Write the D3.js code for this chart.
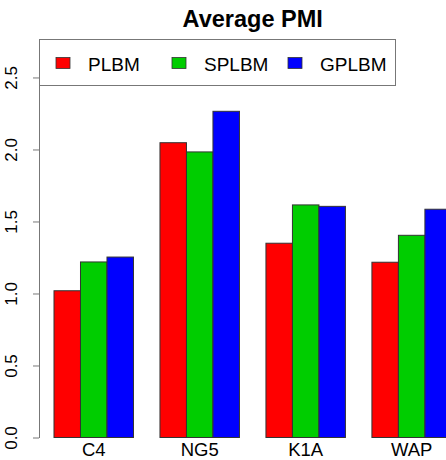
<!DOCTYPE html>
<html><head><meta charset="utf-8">
<script src="https://cdn.jsdelivr.net/npm/d3@7"></script>
<style>body{margin:0;background:#fff}svg{display:block;font-family:"Liberation Sans",Arial,sans-serif}</style>
</head><body>
<svg id="c" width="446" height="460"></svg>
<script>
const categories = ["C4", "NG5", "K1A", "WAP"];
const seriesNames = ["PLBM", "SPLBM", "GPLBM"];
const seriesColors = ["#FF0000", "#00CD00", "#0000FF"];
const PLBM  = [1.019, 2.047, 1.349, 1.217];
const SPLBM = [1.219, 1.983, 1.615, 1.404];
const GPLBM = [1.253, 2.265, 1.605, 1.585];
const yTicks = [0, 0.5, 1.0, 1.5, 2.0, 2.5];
const title = "Average PMI";

const values = [PLBM, SPLBM, GPLBM];
const svg = d3.select("#c");

// x in R barplot units: each group has 1 unit space + 3 bars
const x = d3.scaleLinear().domain([0.4, 16.6]).range([38.1, 467.3]);
const y = d3.scaleLinear().domain([0, 2.765]).range([437.5, 39.3]);

const bars = [];
categories.forEach((c, i) => {
  values.forEach((s, j) => {
    bars.push({c, j, v: s[i], u: i * 4 + 1 + j});
  });
});

svg.append("g").selectAll("rect").data(bars).join("rect")
  .attr("x", d => x(d.u))
  .attr("width", d => x(d.u + 1) - x(d.u))
  .attr("y", d => y(d.v))
  .attr("height", d => y(0) - y(d.v))
  .attr("fill", d => seriesColors[d.j])
  .attr("stroke", "#333")
  .attr("stroke-width", 1);

// category labels
svg.append("g").selectAll("text").data(categories).join("text")
  .attr("x", (d, i) => x(i * 4 + 2.5))
  .attr("y", 455.5)
  .attr("text-anchor", "middle")
  .attr("font-size", 18.5)
  .text(d => d);

// y axis
const yAxis = d3.axisLeft(y).tickValues(yTicks).tickFormat(d3.format(".1f")).tickSize(6).tickSizeOuter(0);
const ga = svg.append("g").attr("transform", "translate(39,0)").call(yAxis);
ga.select(".domain").attr("stroke", "#777");
ga.selectAll(".tick line").attr("stroke", "#777");
ga.selectAll(".tick text")
  .attr("font-size", 17)
  .attr("font-family", "Liberation Sans, Arial, sans-serif")
  .attr("fill", "#000")
  .attr("text-anchor", "middle")
  .attr("x", 0).attr("dy", 0)
  .attr("transform", "translate(-16,0) rotate(-90) translate(0,-6)");

// title
svg.append("text")
  .attr("x", (x(0.4) + x(16.6)) / 2)
  .attr("y", 27)
  .attr("text-anchor", "middle")
  .attr("font-size", 23.5)
  .attr("font-weight", "bold")
  .text(title);

// legend
const lg = svg.append("g");
lg.append("rect").attr("x", 39.5).attr("y", 39.5).attr("width", 356).attr("height", 46)
  .attr("fill", "#fff").attr("stroke", "#777").attr("stroke-width", 1);
const lx = [56, 172, 288];
seriesNames.forEach((n, j) => {
  lg.append("rect").attr("x", lx[j]).attr("y", 57.5).attr("width", 14).attr("height", 11)
    .attr("fill", seriesColors[j]).attr("stroke", "#333").attr("stroke-width", 0.8);
  lg.append("text").attr("x", lx[j] + 32).attr("y", 70.5).attr("font-size", 19).text(n);
});
</script>
</body></html>
